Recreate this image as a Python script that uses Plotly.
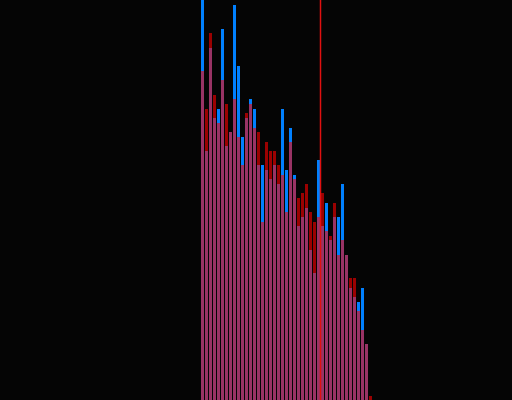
import plotly.graph_objects as go

# bin index for each bar (43 bins)
bins = list(range(43))

# blue series heights
blue_counts = [400, 249, 352, 282, 291, 371, 254, 268, 395, 334, 263, 282, 301, 291,
               235, 235, 230, 221, 235, 216, 291, 230, 272, 225, 174, 183, 192, 150,
               127, 240, 174, 197, 160, 183, 183, 216, 145, 112, 103, 98, 112, 56, 0]

# red series heights
red_counts = [329, 291, 367, 305, 277, 320, 296, 268, 301, 263, 235, 287, 296, 272,
              268, 178, 258, 249, 249, 235, 225, 188, 258, 221, 202, 207, 216, 188,
              178, 183, 207, 169, 164, 197, 145, 160, 145, 122, 122, 89, 70, 56, 4]

threshold = 29.5

fig = go.Figure()

fig.add_trace(go.Bar(
    x=bins,
    y=blue_counts,
    width=0.75,
    marker_color='#0080FF',
    marker_line_width=0,
    name='blue'
))

fig.add_trace(go.Bar(
    x=bins,
    y=red_counts,
    width=0.75,
    marker_color='#FF0000',
    marker_line_width=0,
    opacity=0.6,
    name='red'
))

fig.add_vline(x=threshold, line_color='#E01010', line_width=1.5)

fig.update_layout(
    barmode='overlay',
    width=512,
    height=400,
    margin=dict(l=0, r=0, t=0, b=0),
    paper_bgcolor='#050505',
    plot_bgcolor='#050505',
    showlegend=False,
    xaxis=dict(range=[-50.625, 77.375], visible=False),
    yaxis=dict(range=[0, 400], visible=False),
)

fig.write_html(
    "out.html",
    config={'displayModeBar': False},
    post_script="document.body.style.margin='0';document.body.style.overflow='hidden';"
                "document.body.style.background='#050505';"
)
